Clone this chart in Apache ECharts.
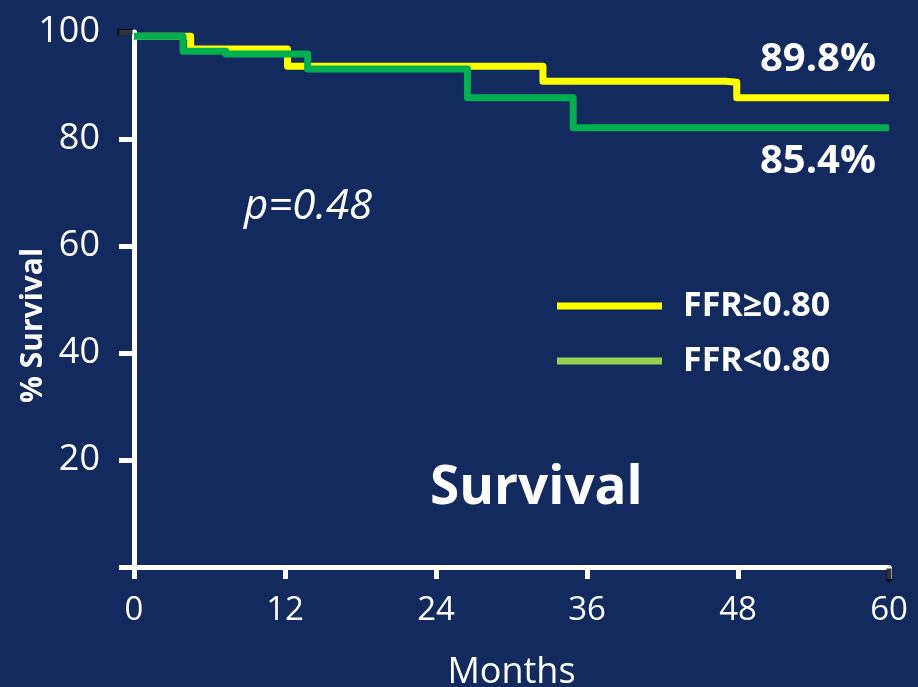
<!DOCTYPE html>
<html><head><meta charset="utf-8">
<script src="https://cdn.jsdelivr.net/npm/echarts@6/dist/echarts.min.js"></script>
<style>html,body{margin:0;padding:0;background:#122a5e}#c{width:918px;height:687px}</style>
</head><body><div id="c"></div>
<script>
const xTicks = [0, 12, 24, 36, 48, 60];
const yTicks = [0, 20, 40, 60, 80, 100];
const seriesNames = ['FFR\u22650.80', 'FFR<0.80'];
const ffrHighMonths = [0, 4.5, 12.2, 32.5, 47.0, 47.9, 60];
const ffrHighSurvival = [99.2, 96.8, 93.6, 90.8, 90.6, 87.7, 87.7];
const ffrLowMonths = [0, 3.9, 7.3, 13.8, 26.5, 34.9, 60];
const ffrLowSurvival = [99.2, 96.4, 95.9, 93.1, 87.7, 82.1, 82.1];
const endLabels = ['89.8%', '85.4%'];
const pValueText = 'p=0.48';
const titleText = 'Survival';

const F = "'Open Sans', 'Noto Sans', sans-serif";
const pairs = (xs, ys) => xs.map((x, i) => [x, ys[i]]);

const chart = echarts.init(document.getElementById('c'), null, {renderer: 'canvas'});
chart.setOption({
  backgroundColor: '#122a5e',
  animation: false,
  grid: {left: 134, right: 29, top: 32, bottom: 120, containLabel: false, outerBoundsMode: 'none'},
  xAxis: {
    type: 'value', min: xTicks[0], max: xTicks[xTicks.length - 1], interval: 12,
    name: 'Months', nameLocation: 'middle', nameGap: 88, nameMoveOverlap: false,
    nameTextStyle: {color: '#fff', fontSize: 36, fontFamily: F},
    axisLine: {lineStyle: {color: '#fff', width: 5}},
    axisTick: {length: 12, lineStyle: {color: '#fff', width: 5}},
    axisLabel: {color: '#fff', fontSize: 33, fontFamily: F, margin: 27},
    splitLine: {show: false}
  },
  yAxis: {
    type: 'value', min: yTicks[0], max: yTicks[yTicks.length - 1], interval: 20,
    name: '% Survival', nameLocation: 'middle', nameGap: 86, nameRotate: 90, nameMoveOverlap: false,
    nameTextStyle: {color: '#fff', fontSize: 30, fontWeight: 'bold', fontFamily: F, padding: [0, 52, 0, 0]},
    axisLine: {show: true, lineStyle: {color: '#fff', width: 5}},
    axisTick: {show: true, length: 15, lineStyle: {color: '#fff', width: 5}},
    axisLabel: {color: '#fff', fontSize: 36, fontFamily: F, margin: 34,
      formatter: v => (v === 0 ? '' : String(v))},
    splitLine: {show: false}
  },
  legend: {
    orient: 'vertical', left: 557, top: 289, padding: 0,
    icon: 'rect', itemWidth: 105, itemHeight: 7, itemGap: 21,
    textStyle: {color: '#fff', fontSize: 34, fontWeight: 'bold', fontFamily: F, lineHeight: 34, padding: [0, 0, 0, 16]},
    data: [
      {name: seriesNames[0], itemStyle: {color: '#ffff00'}},
      {name: seriesNames[1], itemStyle: {color: '#92d050'}}
    ]
  },
  series: [
    {
      name: seriesNames[0], type: 'line', step: 'end', showSymbol: false, symbol: 'none',
      data: pairs(ffrHighMonths, ffrHighSurvival),
      lineStyle: {color: '#ffff00', width: 7, join: 'round'}, itemStyle: {color: '#ffff00'}, z: 3
    },
    {
      name: seriesNames[1], type: 'line', step: 'end', showSymbol: false, symbol: 'none',
      data: pairs(ffrLowMonths, ffrLowSurvival),
      lineStyle: {color: '#00b050', width: 7, join: 'round'}, itemStyle: {color: '#00b050'}, z: 4
    },
    {
      name: 'markTop', type: 'scatter', silent: true, z: 5,
      data: [[xTicks[0], yTicks[yTicks.length - 1]]],
      symbol: 'rect', symbolSize: [15, 6], symbolOffset: [-9, 0],
      itemStyle: {color: '#000'}
    },
    {
      name: 'markRight', type: 'scatter', silent: true, z: 5,
      data: [[xTicks[xTicks.length - 1], yTicks[0]]],
      symbol: 'rect', symbolSize: [5, 13], symbolOffset: [0, 8],
      itemStyle: {color: '#000'}
    }
  ],
  graphic: [
    {type: 'text', right: 42, top: 40, style: {text: endLabels[0], fill: '#fff', font: 'bold 40px ' + F}},
    {type: 'text', right: 42, top: 142, style: {text: endLabels[1], fill: '#fff', font: 'bold 40px ' + F}},
    {type: 'text', left: 244, top: 186, style: {text: pValueText, fill: '#fff', font: 'italic 42px ' + F}},
    {type: 'text', left: 430, top: 462, style: {text: titleText, fill: '#fff', font: 'bold 53px ' + F}}
  ]
});
</script>
</body></html>
